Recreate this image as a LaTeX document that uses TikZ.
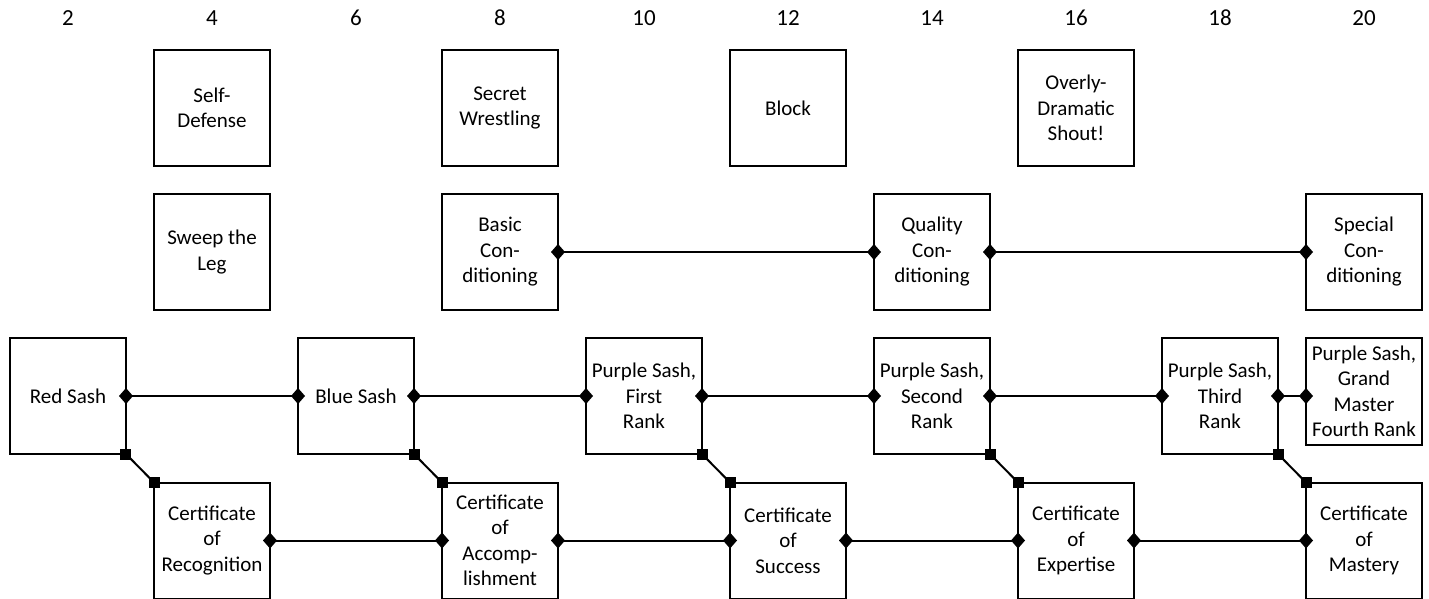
\documentclass[tikz,border=0pt]{standalone}
\usepackage{fontspec}
\setmainfont{Carlito}
\usetikzlibrary{arrows.meta}
\tikzset{
    beltnode/.style = {
        align=center,
        inner sep=2pt,
        outer sep=0pt,
        text centered,
        rectangle,
        draw=black,
        line width=2pt,
        minimum width=116pt,
        minimum height=116pt,
        font=\fontsize{21}{25.5}\selectfont
    },
    scalenode/.style = {
        inner sep=0pt,
        font=\fontsize{23}{27}\selectfont
    },
    pairlink/.style = {
        line width=2pt,
        {Diamond[length=14pt,width=16pt]}-{Diamond[length=14pt,width=16pt]},
        shorten <=-7pt,
        shorten >=-7pt
    },
    steplink/.style = {
        line width=2pt
    }
}
\newcommand{\sqmark}[1]{\fill[shift={(#1)}] (-5.5pt,-5.5pt) rectangle (5.5pt,5.5pt);}

\begin{document}
\begin{tikzpicture}[x=72pt, y=1pt]
    \useasboundingbox (1.0556,0) rectangle (20.9028,598);

    % scale along the top
    \foreach \n in {2,4,...,20}
        \node [scalenode] (num\n) at (\n,580) {\n};

    % skills
    \node [beltnode] (selfdef) at (4,490) {Self-\\Defense};
    \node [beltnode] (wrestle) at (8,490) {Secret\\Wrestling};
    \node [beltnode] (block) at (12,490) {Block};
    \node [beltnode] (shout) at (16,490) {Overly-\\Dramatic\\Shout!};

    % conditioning
    \node [beltnode] (sweep) at (4,346) {Sweep the\\Leg};
    \node [beltnode] (basic) at (8,346) {Basic\\Con-\\ditioning};
    \node [beltnode] (quality) at (14,346) {Quality\\Con-\\ditioning};
    \node [beltnode] (special) at (20,346) {Special\\Con-\\ditioning};

    % sashes
    \node [beltnode] (red) at (2,202) {Red Sash};
    \node [beltnode] (blue) at (6,202) {Blue Sash};
    \node [beltnode] (pone) at (10,202) {Purple Sash,\\First\\Rank};
    \node [beltnode] (ptwo) at (14,202) {Purple Sash,\\Second\\Rank};
    \node [beltnode] (pthree) at (18,202) {Purple Sash,\\Third\\Rank};
    \node [beltnode, minimum height=107pt, anchor=north] (pgrand) at (20,260) {Purple Sash,\\Grand\\Master\\Fourth Rank};

    % certificates
    \node [beltnode] (crecog) at (4,57.5) {Certificate\\of\\Recognition};
    \node [beltnode] (caccomp) at (8,57.5) {Certificate\\of\\Accomp-\\lishment};
    \node [beltnode] (csucc) at (12,57.5) {Certificate\\of\\Success};
    \node [beltnode] (cexpert) at (16,57.5) {Certificate\\of\\Expertise};
    \node [beltnode] (cmaster) at (20,57.5) {Certificate\\of\\Mastery};

    \draw [pairlink] (basic.east) -- (quality.west);
    \draw [pairlink] (quality.east) -- (special.west);

    \draw [pairlink] (red.east) -- (blue.west);
    \draw [pairlink] (blue.east) -- (pone.west);
    \draw [pairlink] (pone.east) -- (ptwo.west);
    \draw [pairlink] (ptwo.east) -- (pthree.west);
    \draw [pairlink] (pthree.east) -- (pthree.east -| pgrand.west);

    \draw [pairlink] (crecog.east) -- (caccomp.west);
    \draw [pairlink] (caccomp.east) -- (csucc.west);
    \draw [pairlink] (csucc.east) -- (cexpert.west);
    \draw [pairlink] (cexpert.east) -- (cmaster.west);

    % sash to certificate
    \foreach \s/\c in {red/crecog, blue/caccomp, pone/csucc, ptwo/cexpert, pthree/cmaster} {
        \draw [steplink] (\s.south east) -- (\c.north west);
        \sqmark{\s.south east}
        \sqmark{\c.north west}
    }
\end{tikzpicture}
\end{document}
